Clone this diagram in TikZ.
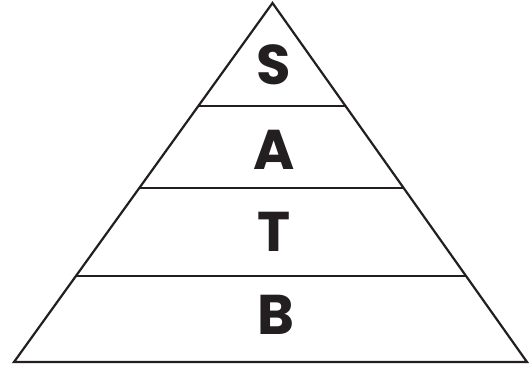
\documentclass[tikz,border=0pt]{standalone}
\usepackage{fontspec}
\setmainfont{Poppins}
\usetikzlibrary{calc}
\definecolor{ink}{HTML}{231F20}
\begin{document}
\begin{tikzpicture}[x=1pt,y=-1pt,
  edge/.style={draw=ink,line width=2.2pt,line join=miter},
  layer/.style={draw=ink,line width=2.2pt},
  lab/.style={text=ink,inner sep=0pt,font=\fontsize{56}{60}\selectfont\bfseries}]
\useasboundingbox (0,0) rectangle (529,365);
\coordinate (apex) at (272.5,3);
\coordinate (bl) at (14,362);
\coordinate (br) at (527,362);
\draw[edge] (apex) -- (bl) -- (br) -- cycle;
\coordinate (l1) at ($(apex)!0.2869!(bl)$);
\coordinate (r1) at ($(apex)!0.2869!(br)$);
\coordinate (l2) at ($(apex)!0.5153!(bl)$);
\coordinate (r2) at ($(apex)!0.5153!(br)$);
\coordinate (l3) at ($(apex)!0.7604!(bl)$);
\coordinate (r3) at ($(apex)!0.7604!(br)$);
\draw[layer] (l1) -- (r1);
\draw[layer] (l2) -- (r2);
\draw[layer] (l3) -- (r3);
\node[lab] (s) at (274,65) {S};
\node[lab] (a) at (274,150) {A};
\node[lab] (t) at (274.5,232) {T};
\node[lab] (b) at (275.5,315) {B};
\end{tikzpicture}
\end{document}
